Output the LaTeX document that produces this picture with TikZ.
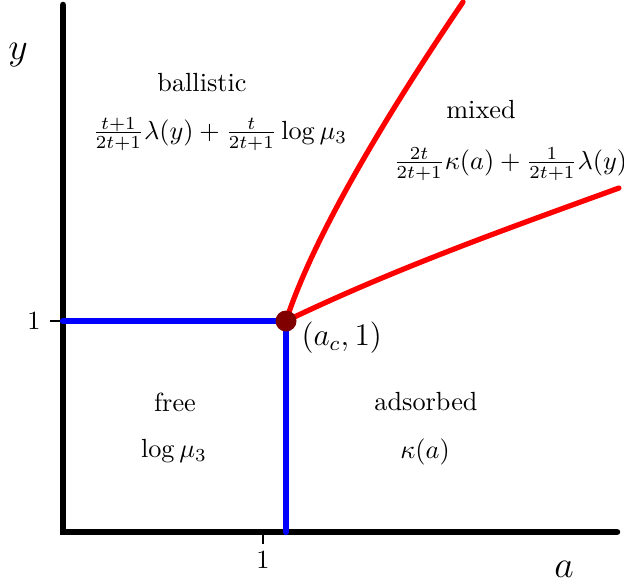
\documentclass[tikz,border=0pt]{standalone}
\begin{document}
\begin{tikzpicture}[x=0.381pt,y=-0.381pt,
  axis/.style={line width=2.5pt,line cap=round,black},
  tickline/.style={line width=0.8pt,black},
  blueline/.style={line width=2.4pt,line cap=round,blue},
  redline/.style={line width=2.0pt,line cap=round,red},
  dotnode/.style={circle,fill=black!50!red,inner sep=0pt,minimum size=8pt},
  lbl/.style={inner sep=0pt,anchor=center}]
\useasboundingbox (0,0) rectangle (624,587);
% axes
\coordinate (O) at (63,532);
\coordinate (ytop) at (63,5);
\coordinate (xend) at (617,532);
\coordinate (ytick) at (50,321);
\coordinate (ytickend) at (63,321);
\coordinate (xtick) at (263,544);
\coordinate (xtickend) at (263,532);
\draw[tickline] (ytick) -- (ytickend);
\draw[tickline] (xtick) -- (xtickend);
\draw[axis] (ytop) -- (O) -- (xend);
% blue boundaries
\coordinate (y1) at (63,321);
\coordinate (x1) at (286,532);
\coordinate (acpt) at (286,321);
\draw[blueline] (y1) -- (acpt) -- (x1);
% red curves
\coordinate (rtop) at (463,2);
\coordinate (rright) at (619,188);
\draw[redline] (acpt) .. controls (318,222) and (410,80) .. (rtop);
\draw[redline] (acpt) .. controls (396,268) and (509,228) .. (rright);
\node[dotnode] (ac) at (acpt) {};
% labels
\node[lbl] (ylab) at (18,55) {\Large$y$};
\node[lbl] (alab) at (564,569) {\Large$a$};
\node[lbl] (one1) at (34,321) {$1$};
\node[lbl] (one2) at (263,560) {$1$};
\node[lbl,anchor=west] (aclab) at (301,338) {\large$(a_c,1)$};
\node[lbl] (ball) at (202,83) {ballistic};
\node[lbl] (ballf) at (220,134) {$\frac{t+1}{2t+1}\lambda(y)+\frac{t}{2t+1}\log\mu_3$};
\node[lbl] (mixed) at (481,110) {mixed};
\node[lbl,anchor=west] (mixedf) at (393,164) {$\frac{2t}{2t+1}\kappa(a)+\frac{1}{2t+1}\lambda(y)$};
\node[lbl] (free) at (175,402) {free};
\node[lbl] (freef) at (174,451) {$\log\mu_3$};
\node[lbl] (ads) at (426,402) {adsorbed};
\node[lbl] (adsf) at (425,452) {$\kappa(a)$};
\end{tikzpicture}
\end{document}
